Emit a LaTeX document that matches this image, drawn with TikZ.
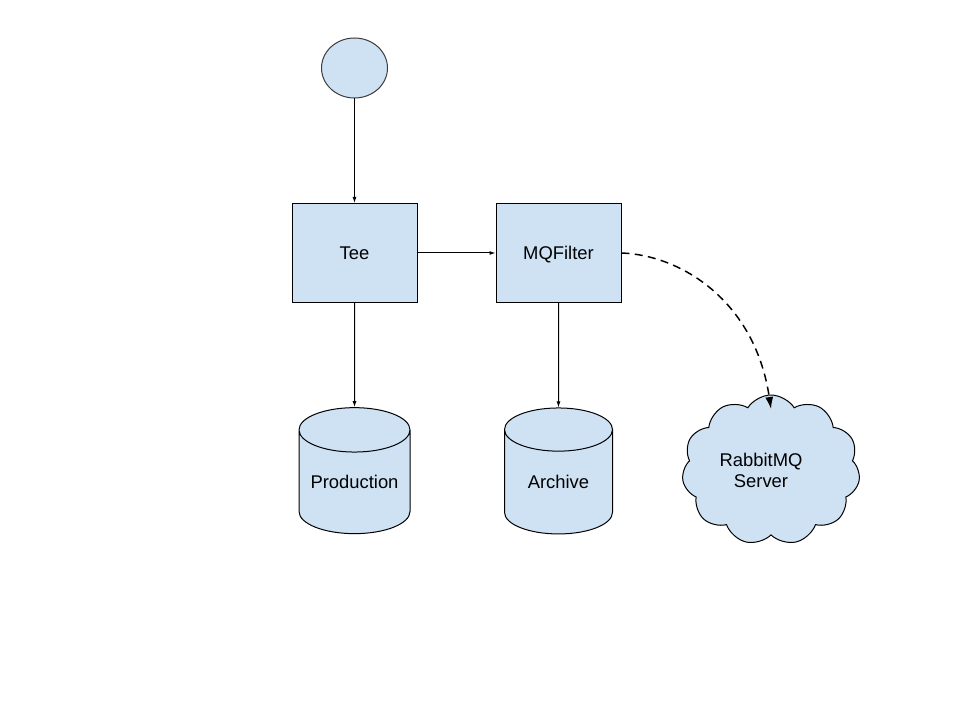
\documentclass[tikz,border=0pt]{standalone}
\usepackage{fontspec}
\setmainfont{Liberation Sans}
\usetikzlibrary{arrows.meta}
\usetikzlibrary{shapes.geometric,shapes.symbols}

\begin{document}
\begin{tikzpicture}[x=0.75pt,y=0.75pt,yscale=-1,xscale=1,
  every node/.style={font=\fontsize{13.8}{15.75}\selectfont},
  shp/.style={draw={rgb, 255:red, 0; green, 0; blue, 0 },fill={rgb, 255:red, 207; green, 226; blue, 243 },line width=0.75pt},
  blk/.style={shp,rectangle,minimum width=93.75pt,minimum height=74.25pt,inner sep=0pt,text depth=0pt},
  dbs/.style={shp,cylinder,shape border rotate=90,aspect=0.4,text width=83.25pt,align=center,minimum height=94.5pt,inner sep=0pt},
  flow/.style={line width=0.75pt,-{Latex[length=4.5pt,width=3pt]}}]
\useasboundingbox (0,0) rectangle (960,720);

%Shape: Ellipse [id:start]
\node [shp,ellipse,draw={rgb, 255:red, 60; green, 60; blue, 60 },minimum width=49.5pt,minimum height=45pt,inner sep=0pt] (start) at (354.5,68) {};
%Shape: Rectangle [id:tee]
\node [blk] (tee) at (354.5,253) {Tee};
%Shape: Rectangle [id:mqf]
\node [blk] (mqf) at (558.5,253) {MQFilter};
%Shape: Can [id:prod]
\node [dbs] (prod) at (354.5,482) {Production};
%Shape: Can [id:arch]
\node [dbs,text width=81pt] (arch) at (558.5,482) {Archive};
%Shape: Cloud [id:rmq]
\node [shp,cloud,cloud puffs=11,cloud puff arc=115,aspect=1.19,minimum width=133.5pt,minimum height=112.5pt,inner sep=0pt,
  label={[xshift=-7.5pt,align=center,font=\fontsize{13.8}{15.75}\selectfont]center:RabbitMQ\\Server}] (rmq) at (771,470) {};
\coordinate (rmqin) at (771,409);

%Straight Lines
\draw [flow] (start) -- (tee);
\draw [flow] (tee) -- (mqf);
\draw [flow] (tee) -- (prod);
\draw [flow] (mqf) -- (arch);
%Curve Lines
\draw [line width=1.1pt,dash pattern=on 6pt off 4pt,-{Latex[length=9pt,width=6pt]}] (mqf.east) .. controls (680,255) and (755,300) .. (rmqin);

\end{tikzpicture}
\end{document}
